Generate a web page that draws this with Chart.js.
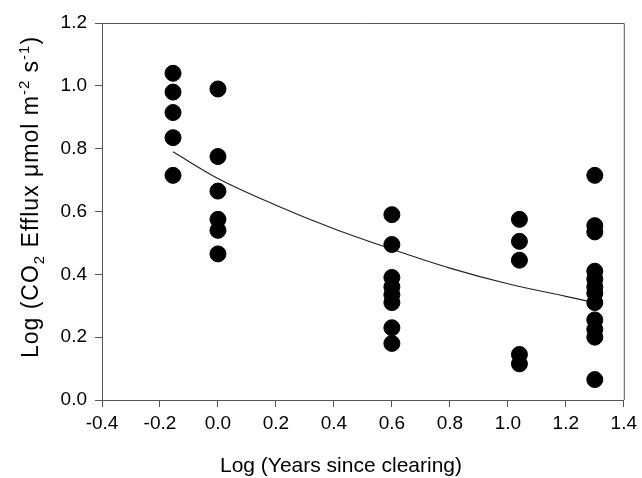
<!DOCTYPE html>
<html>
<head>
<meta charset="utf-8">
<script src="https://cdn.jsdelivr.net/npm/chart.js@4/dist/chart.umd.min.js"></script>
<style>
  body { margin: 0; background: #fff; }
  #wrap { width: 642px; height: 478px; }
</style>
</head>
<body>
<div id="wrap"><canvas id="effluxChart" width="642" height="478"></canvas></div>
<script>
// Log(years since clearing) for each sampled site group
const yearsLog = [-0.155, 0, 0.6, 1.04, 1.3];

// Log CO2 efflux readings at each of those ages
const effluxAtAge = [
    [1.04, 0.98, 0.915, 0.835, 0.715],
    [0.99, 0.775, 0.665, 0.575, 0.54, 0.465],
    [0.59, 0.495, 0.39, 0.36, 0.335, 0.31, 0.23, 0.18],
    [0.575, 0.505, 0.445, 0.145, 0.115],
    [0.715, 0.555, 0.535, 0.41, 0.385, 0.36, 0.34, 0.31, 0.255, 0.225, 0.2, 0.065]
];

// fitted curve
const fitX = [-0.155, 0, 0.2, 0.4, 0.6, 0.8, 1.0, 1.2, 1.3];
const fitY = [0.79, 0.705, 0.62, 0.545, 0.48, 0.42, 0.37, 0.33, 0.31];

const xTicks = { min: -0.4, max: 1.4, step: 0.2 };
const yTicks = { min: 0, max: 1.2, step: 0.2 };

const FONT = "'Liberation Sans', Arial, sans-serif";
const axisColor = '#555';

// flatten groups into scatter points
const points = [];
yearsLog.forEach((x, i) => {
    effluxAtAge[i].forEach(y => points.push({ x: x, y: y }));
});
const fitLine = fitX.map((x, i) => ({ x: x, y: fitY[i] }));

function tickText(v) {
    if (Math.abs(v) < 1e-9) return '0.0';
    return v.toFixed(1);
}

// box around plot + axis titles with sub/superscripts
const decorPlugin = {
    id: 'decor',
    afterDraw(chart) {
        const c = chart.ctx;
        const a = chart.chartArea;
        c.save();
        c.strokeStyle = axisColor;
        c.lineWidth = 1;
        c.beginPath();
        c.moveTo(a.left, a.top + 0.5);
        c.lineTo(a.right + 0.5, a.top + 0.5);
        c.lineTo(a.right + 0.5, a.bottom);
        c.stroke();

        c.fillStyle = '#000';
        c.textBaseline = 'alphabetic';
        c.textAlign = 'center';
        c.font = '21px ' + FONT;
        c.fillText('Log (Years since clearing)', 341, 472);

        // y title pieces: text, size, shift
        const parts = [
            ['Log (CO', 23, 0],
            ['2', 15, 6],
            [' Efflux \u03bcmol m', 23, 0],
            ['-2', 15, -9],
            [' s', 23, 0],
            ['-1', 15, -9],
            [')', 23, 0]
        ];
        c.letterSpacing = '1px';
        let total = 0;
        parts.forEach(p => {
            c.font = p[1] + 'px ' + FONT;
            total += c.measureText(p[0]).width;
        });
        c.translate(38, 197);
        c.rotate(-Math.PI / 2);
        c.textAlign = 'left';
        let px = -total / 2;
        parts.forEach(p => {
            c.font = p[1] + 'px ' + FONT;
            c.fillText(p[0], px, p[2]);
            px += c.measureText(p[0]).width;
        });
        c.restore();
    }
};

const ctx = document.getElementById('effluxChart');
new Chart(ctx.getContext('2d'), {
    type: 'scatter',
    data: {
        datasets: [{
            label: 'Efflux',
            data: points,
            backgroundColor: '#000',
            borderColor: '#000',
            pointRadius: 8,
            pointHoverRadius: 8
        }, {
            label: 'Fit',
            data: fitLine,
            showLine: true,
            borderColor: '#222',
            borderWidth: 1.2,
            pointRadius: 0,
            cubicInterpolationMode: 'monotone',
            fill: false
        }]
    },
    options: {
        responsive: false,
        devicePixelRatio: 1,
        animation: false,
        layout: { padding: { top: 23, right: 16, left: 0, bottom: 0 } },
        plugins: {
            legend: { display: false },
            tooltip: { enabled: false }
        },
        scales: {
            x: {
                type: 'linear',
                min: xTicks.min,
                max: xTicks.max,
                ticks: {
                    stepSize: xTicks.step,
                    callback: tickText,
                    color: '#000',
                    font: { family: FONT, size: 19 },
                    padding: 5,
                    maxRotation: 0
                },
                grid: { drawOnChartArea: false, tickLength: 7, color: axisColor },
                border: { color: axisColor },
                afterFit(scale) { scale.height = 78; }
            },
            y: {
                type: 'linear',
                min: yTicks.min,
                max: yTicks.max,
                ticks: {
                    stepSize: yTicks.step,
                    callback: tickText,
                    color: '#000',
                    font: { family: FONT, size: 19 },
                    padding: 8
                },
                grid: { drawOnChartArea: false, tickLength: 7, color: axisColor },
                border: { color: axisColor },
                afterFit(scale) { scale.width = 102; }
            }
        }
    },
    plugins: [decorPlugin]
});
</script>
</body>
</html>
